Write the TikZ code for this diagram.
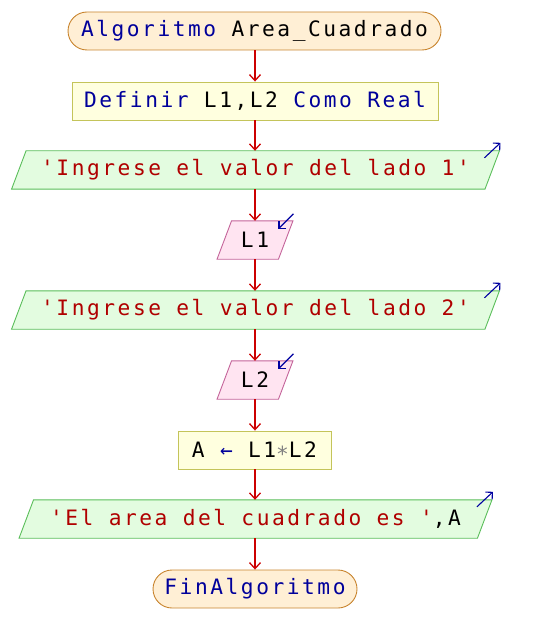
\documentclass[tikz,border=0pt]{standalone}
\usepackage{fontspec}
\usetikzlibrary{arrows.meta,backgrounds}
\newfontfamily\codefont{DejaVu Sans Mono}[LetterSpace=12.0]

\definecolor{kwcol}{HTML}{00009B}
\definecolor{strcol}{HTML}{B00000}
\definecolor{opcol}{HTML}{808080}
\definecolor{flow}{HTML}{CC0000}
\definecolor{termfill}{HTML}{FFEFD5}
\definecolor{termline}{HTML}{C8842E}
\definecolor{procfill}{HTML}{FFFFDF}
\definecolor{procline}{HTML}{C4C45A}
\definecolor{outfill}{HTML}{E3FCE0}
\definecolor{outline}{HTML}{5ABE5A}
\definecolor{infill}{HTML}{FFE4F1}
\definecolor{inline}{HTML}{C4649A}
\definecolor{iconcol}{HTML}{0000A0}

\newcommand\kwd[1]{\textcolor{kwcol}{#1}}
\newcommand\strg[1]{\textcolor{strcol}{#1}}
\newcommand\opr[1]{\textcolor{opcol}{#1}}

% parallelogram drawn behind a (rectangular, invisible) node
\newcommand\slantbox[3]{%
  \begin{pgfonlayer}{background}
    \filldraw[fill=#2,draw=#3,line width=0.9pt]
      ([xshift=-7.25pt]#1.south west) -- ([xshift=-7.25pt]#1.south east)
      -- ([xshift=7.25pt]#1.north east) -- ([xshift=7.25pt]#1.north west) -- cycle;
  \end{pgfonlayer}}
% small arrow marks in the upper right corner of output / input blocks
\newcommand\outmark[1]{%
  \draw[iconmark] ([xshift=-7.75pt,yshift=-7pt]#1.north east) -- ++(16pt,15pt);}
\newcommand\inmark[1]{%
  \draw[iconmark] ([xshift=7.75pt,yshift=7pt]#1.north east) -- ++(-15pt,-15pt);}

\tikzset{
  base/.style={rectangle, inner sep=0pt, minimum height=38pt,
    font=\codefont\fontsize{21.2}{24}\selectfont},
  term/.style={base, draw=termline, fill=termfill, line width=0.9pt,
    rounded corners=19pt},
  proc/.style={base, draw=procline, fill=procfill, line width=0.9pt},
  io/.style={base},
  flowline/.style={flow, line width=1.5pt,
    -{Straight Barb[length=6pt,width=11pt,line width=1.3pt]}},
  iconmark/.style={iconcol, line width=1.1pt,
    -{Straight Barb[length=5pt,width=10pt,line width=1.1pt]}},
}

\begin{document}
\begin{tikzpicture}[x=1pt,y=-1pt]
\useasboundingbox (0,0) rectangle (532,628);

\node[term, minimum width=373pt] (start) at (254.5,31)
  {\kwd{Algoritmo} Area\_Cuadrado};
\node[proc, minimum width=366pt] (def) at (255,101)
  {\kwd{Definir} L1,L2 \kwd{Como} \kwd{Real}};
\node[io, minimum width=473pt] (out1) at (255.5,170)
  {\strg{'Ingrese el valor del lado 1'}};
\node[io, minimum width=61pt] (in1) at (255,240) {L1};
\node[io, minimum width=473pt] (out2) at (255.5,310)
  {\strg{'Ingrese el valor del lado 2'}};
\node[io, minimum width=61pt] (in2) at (255,380) {L2};
\node[proc, minimum width=153pt] (asig) at (254.5,450)
  {A \kwd{←} L1\opr{∗}L2};
\node[io, minimum width=458pt] (out3) at (255.5,519)
  {\strg{'El area del cuadrado es '},A};
\node[term, minimum width=204pt] (fin) at (255,589)
  {\kwd{FinAlgoritmo}};

\slantbox{out1}{outfill}{outline}
\slantbox{in1}{infill}{inline}
\slantbox{out2}{outfill}{outline}
\slantbox{in2}{infill}{inline}
\slantbox{out3}{outfill}{outline}

\outmark{out1}
\inmark{in1}
\outmark{out2}
\inmark{in2}
\outmark{out3}

\draw[flowline] (start.south -| def.north) -- (def.north);
\draw[flowline] (def.south) -- (def.south |- out1.north);
\draw[flowline] (def.south |- out1.south) -- (def.south |- in1.north);
\draw[flowline] (def.south |- in1.south) -- (def.south |- out2.north);
\draw[flowline] (def.south |- out2.south) -- (def.south |- in2.north);
\draw[flowline] (def.south |- in2.south) -- (def.south |- asig.north);
\draw[flowline] (def.south |- asig.south) -- (def.south |- out3.north);
\draw[flowline] (def.south |- out3.south) -- (fin.north);
\end{tikzpicture}
\end{document}
